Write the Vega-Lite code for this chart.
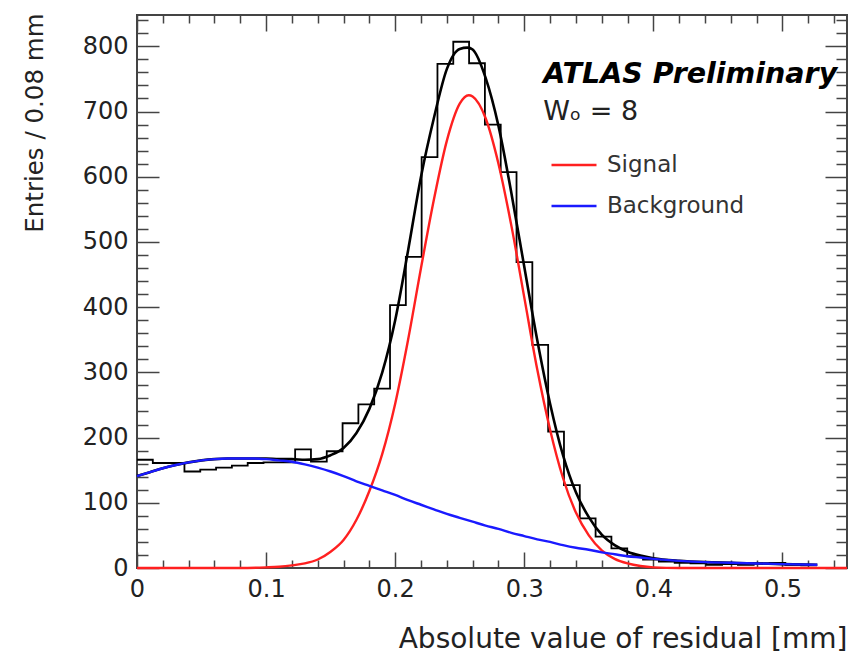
{
  "$schema": "https://vega.github.io/schema/vega-lite/v6.json",
  "width": 710,
  "height": 553,
  "autosize": {"type": "none"},
  "padding": {"left": 137, "top": 15, "right": 5, "bottom": 96},
  "background": "white",
  "config": {
    "view": {"stroke": "#444", "strokeWidth": 2},
    "font": "DejaVu Sans",
    "axis": {"domain": false, "grid": false, "tickColor": "#444", "tickWidth": 1.5, "zindex": 1, "labelFlush": false, "labelOverlap": false, "labelBound": false}
  },
  "datasets": {
    "hist": [
      {"x": 0, "n": 166}, {"x": 0.01225, "n": 161}, {"x": 0.0245, "n": 161}, {"x": 0.03675, "n": 148},
      {"x": 0.049, "n": 151}, {"x": 0.06125, "n": 154}, {"x": 0.0735, "n": 157}, {"x": 0.08575, "n": 161},
      {"x": 0.098, "n": 162}, {"x": 0.11025, "n": 162}, {"x": 0.1225, "n": 182}, {"x": 0.13475, "n": 163},
      {"x": 0.147, "n": 179}, {"x": 0.15925, "n": 222}, {"x": 0.1715, "n": 251}, {"x": 0.18375, "n": 275},
      {"x": 0.196, "n": 403}, {"x": 0.20825, "n": 477}, {"x": 0.2205, "n": 630}, {"x": 0.23275, "n": 773},
      {"x": 0.245, "n": 807}, {"x": 0.25725, "n": 774}, {"x": 0.2695, "n": 680}, {"x": 0.28175, "n": 607},
      {"x": 0.294, "n": 469}, {"x": 0.30625, "n": 342}, {"x": 0.3185, "n": 209}, {"x": 0.33075, "n": 127},
      {"x": 0.343, "n": 76}, {"x": 0.35525, "n": 48}, {"x": 0.3675, "n": 30}, {"x": 0.37975, "n": 18},
      {"x": 0.392, "n": 13}, {"x": 0.40425, "n": 10}, {"x": 0.4165, "n": 8}, {"x": 0.42875, "n": 7},
      {"x": 0.441, "n": 5}, {"x": 0.45325, "n": 6}, {"x": 0.4655, "n": 5}, {"x": 0.47775, "n": 7},
      {"x": 0.49, "n": 8}, {"x": 0.50225, "n": 5}, {"x": 0.5145, "n": 4}, {"x": 0.52675, "n": 4}
    ],
    "total": [
      {"x": 0, "y": 141}, {"x": 0.01, "y": 147}, {"x": 0.02, "y": 153}, {"x": 0.03, "y": 158}, {"x": 0.04, "y": 162},
      {"x": 0.05, "y": 165}, {"x": 0.06, "y": 167}, {"x": 0.07, "y": 168}, {"x": 0.08, "y": 168}, {"x": 0.09, "y": 168},
      {"x": 0.1, "y": 168}, {"x": 0.11, "y": 167}, {"x": 0.12, "y": 167}, {"x": 0.13, "y": 166}, {"x": 0.14, "y": 167},
      {"x": 0.15, "y": 173}, {"x": 0.16, "y": 184}, {"x": 0.17, "y": 207}, {"x": 0.18, "y": 244}, {"x": 0.19, "y": 300},
      {"x": 0.2, "y": 380}, {"x": 0.21, "y": 487}, {"x": 0.22, "y": 600}, {"x": 0.23, "y": 690}, {"x": 0.24, "y": 765},
      {"x": 0.25, "y": 796}, {"x": 0.256, "y": 798}, {"x": 0.26, "y": 795}, {"x": 0.27, "y": 752}, {"x": 0.28, "y": 678},
      {"x": 0.29, "y": 575}, {"x": 0.3, "y": 462}, {"x": 0.31, "y": 350}, {"x": 0.32, "y": 252}, {"x": 0.33, "y": 173},
      {"x": 0.34, "y": 116}, {"x": 0.35, "y": 78}, {"x": 0.36, "y": 51}, {"x": 0.37, "y": 35}, {"x": 0.38, "y": 25},
      {"x": 0.39, "y": 19}, {"x": 0.4, "y": 15}, {"x": 0.42, "y": 11}, {"x": 0.44, "y": 9}, {"x": 0.46, "y": 8},
      {"x": 0.48, "y": 7}, {"x": 0.5, "y": 6}, {"x": 0.527, "y": 5}
    ],
    "signal": [
      {"x": 0, "y": 0}, {"x": 0.05, "y": 0}, {"x": 0.08, "y": 0}, {"x": 0.1, "y": 1}, {"x": 0.11, "y": 2},
      {"x": 0.12, "y": 4}, {"x": 0.13, "y": 7}, {"x": 0.14, "y": 13}, {"x": 0.15, "y": 25}, {"x": 0.16, "y": 43},
      {"x": 0.17, "y": 74}, {"x": 0.18, "y": 118}, {"x": 0.19, "y": 175}, {"x": 0.2, "y": 252}, {"x": 0.21, "y": 350},
      {"x": 0.22, "y": 460}, {"x": 0.23, "y": 565}, {"x": 0.24, "y": 655}, {"x": 0.25, "y": 712}, {"x": 0.257, "y": 725},
      {"x": 0.26, "y": 723}, {"x": 0.27, "y": 690}, {"x": 0.28, "y": 620}, {"x": 0.29, "y": 525}, {"x": 0.3, "y": 415},
      {"x": 0.31, "y": 305}, {"x": 0.32, "y": 212}, {"x": 0.33, "y": 138}, {"x": 0.34, "y": 85}, {"x": 0.35, "y": 50},
      {"x": 0.36, "y": 27}, {"x": 0.37, "y": 14}, {"x": 0.38, "y": 7}, {"x": 0.39, "y": 3}, {"x": 0.4, "y": 1},
      {"x": 0.42, "y": 0}, {"x": 0.55, "y": 0}
    ],
    "background": [
      {"x": 0, "y": 141}, {"x": 0.01, "y": 147}, {"x": 0.02, "y": 153}, {"x": 0.03, "y": 158}, {"x": 0.04, "y": 162},
      {"x": 0.05, "y": 165}, {"x": 0.06, "y": 167}, {"x": 0.07, "y": 168}, {"x": 0.08, "y": 168}, {"x": 0.09, "y": 168},
      {"x": 0.1, "y": 167}, {"x": 0.11, "y": 165}, {"x": 0.12, "y": 163}, {"x": 0.13, "y": 159}, {"x": 0.14, "y": 154},
      {"x": 0.15, "y": 148}, {"x": 0.16, "y": 141}, {"x": 0.17, "y": 133}, {"x": 0.18, "y": 126}, {"x": 0.19, "y": 119},
      {"x": 0.2, "y": 112}, {"x": 0.21, "y": 104}, {"x": 0.22, "y": 97}, {"x": 0.23, "y": 90}, {"x": 0.24, "y": 83},
      {"x": 0.25, "y": 77}, {"x": 0.26, "y": 71}, {"x": 0.27, "y": 65}, {"x": 0.28, "y": 60}, {"x": 0.29, "y": 54},
      {"x": 0.3, "y": 49}, {"x": 0.31, "y": 44}, {"x": 0.32, "y": 40}, {"x": 0.33, "y": 35}, {"x": 0.34, "y": 31},
      {"x": 0.35, "y": 28}, {"x": 0.36, "y": 24}, {"x": 0.37, "y": 21}, {"x": 0.38, "y": 18}, {"x": 0.39, "y": 16},
      {"x": 0.4, "y": 14}, {"x": 0.42, "y": 11}, {"x": 0.44, "y": 9}, {"x": 0.46, "y": 8}, {"x": 0.48, "y": 7},
      {"x": 0.5, "y": 6}, {"x": 0.527, "y": 5}
    ],
    "labels": [
      {"x": 0.3147, "y": 743, "t": "ATLAS Preliminary", "kind": "atlas"},
      {"x": 0.3147, "y": 687, "t": "Wₒ = 8", "kind": "w"}
    ]
  },
  "layer": [
    {
      "data": {"name": "hist"},
      "mark": {"type": "line", "interpolate": "step-after", "color": "black", "strokeWidth": 1.8},
      "encoding": {
        "x": {
          "field": "x", "type": "quantitative",
          "scale": {"domain": [0, 0.55], "nice": false, "zero": false},
          "axis": {
            "orient": "bottom", "offset": -16, "tickSize": 16,
            "values": [0, 0.1, 0.2, 0.3, 0.4, 0.5],
            "labelExpr": "format(datum.value,'.1~f')",
            "labelFont": "DejaVu Sans", "labelFontSize": 24, "labelColor": "#222", "labelPadding": 9,
            "title": "Absolute value of residual [mm]", "titleFont": "DejaVu Sans", "titleFontSize": 28,
            "titleFontWeight": "normal", "titleColor": "#222", "titleAlign": "right", "titleAnchor": "end",
            "titleX": 710, "titleY": 95, "titleBaseline": "alphabetic"
          }
        },
        "y": {
          "field": "n", "type": "quantitative",
          "scale": {"domain": [0, 848], "nice": false, "zero": false},
          "axis": {
            "orient": "left", "offset": -22, "tickSize": 22,
            "values": [0, 100, 200, 300, 400, 500, 600, 700, 800],
            "labelFont": "DejaVu Sans", "labelFontSize": 24, "labelColor": "#222", "labelPadding": 9,
            "title": "Entries / 0.08 mm", "titleFont": "DejaVu Sans", "titleFontSize": 24.5,
            "titleFontWeight": "normal", "titleColor": "#222", "titleAlign": "right", "titleAnchor": "end",
            "titleX": -117, "titleY": -2, "titleBaseline": "alphabetic", "titleAngle": 270
          }
        }
      }
    },
    {
      "data": {"name": "total"},
      "mark": {"type": "line", "interpolate": "monotone", "color": "black", "strokeWidth": 2.6},
      "encoding": {
        "x": {
          "field": "x", "type": "quantitative",
          "axis": {
            "orient": "bottom", "offset": -8, "tickSize": 8, "labels": false, "title": null,
            "values": [0.02, 0.04, 0.06, 0.08, 0.12, 0.14, 0.16, 0.18, 0.22, 0.24, 0.26, 0.28, 0.32, 0.34, 0.36, 0.38, 0.42, 0.44, 0.46, 0.48, 0.52, 0.54]
          }
        },
        "y": {
          "field": "y", "type": "quantitative",
          "axis": {
            "orient": "left", "offset": -11, "tickSize": 11, "labels": false, "title": null,
            "values": [20, 40, 60, 80, 120, 140, 160, 180, 220, 240, 260, 280, 320, 340, 360, 380, 420, 440, 460, 480, 520, 540, 560, 580, 620, 640, 660, 680, 720, 740, 760, 780, 820, 840]
          }
        }
      }
    },
    {
      "data": {"name": "signal"},
      "mark": {"type": "line", "interpolate": "monotone", "strokeWidth": 2.4},
      "encoding": {
        "x": {
          "field": "x", "type": "quantitative",
          "axis": {
            "orient": "top", "offset": -16, "tickSize": 16, "labels": false, "title": null,
            "values": [0, 0.1, 0.2, 0.3, 0.4, 0.5]
          }
        },
        "y": {
          "field": "y", "type": "quantitative",
          "axis": {
            "orient": "right", "offset": -22, "tickSize": 22, "labels": false, "title": null,
            "values": [0, 100, 200, 300, 400, 500, 600, 700, 800]
          }
        },
        "color": {
          "datum": "Signal",
          "scale": {"domain": ["Signal", "Background"], "range": ["#ff2020", "#1a1aff"]},
          "legend": {
            "orient": "none", "legendX": 413, "legendY": 126, "title": null, "padding": 0,
            "symbolType": "stroke", "symbolSize": 2025, "symbolStrokeWidth": 2.5,
            "labelFont": "DejaVu Sans", "labelFontSize": 23, "labelColor": "#333", "labelOffset": 9,
            "rowPadding": 5
          }
        }
      }
    },
    {
      "data": {"name": "background"},
      "mark": {"type": "line", "interpolate": "monotone", "strokeWidth": 2.4},
      "encoding": {
        "x": {
          "field": "x", "type": "quantitative",
          "axis": {
            "orient": "top", "offset": -8, "tickSize": 8, "labels": false, "title": null,
            "values": [0.02, 0.04, 0.06, 0.08, 0.12, 0.14, 0.16, 0.18, 0.22, 0.24, 0.26, 0.28, 0.32, 0.34, 0.36, 0.38, 0.42, 0.44, 0.46, 0.48, 0.52, 0.54]
          }
        },
        "y": {
          "field": "y", "type": "quantitative",
          "axis": {
            "orient": "right", "offset": -11, "tickSize": 11, "labels": false, "title": null,
            "values": [20, 40, 60, 80, 120, 140, 160, 180, 220, 240, 260, 280, 320, 340, 360, 380, 420, 440, 460, 480, 520, 540, 560, 580, 620, 640, 660, 680, 720, 740, 760, 780, 820, 840]
          }
        },
        "color": {"datum": "Background"}
      }
    },
    {
      "data": {"name": "labels"},
      "transform": [{"filter": "datum.kind === 'atlas'"}],
      "mark": {"type": "text", "align": "left", "baseline": "alphabetic", "font": "DejaVu Sans", "fontSize": 28.5, "fontStyle": "italic", "fontWeight": "bold", "color": "black"},
      "encoding": {
        "x": {"field": "x", "type": "quantitative", "axis": null},
        "y": {"field": "y", "type": "quantitative", "axis": null},
        "text": {"field": "t"}
      }
    },
    {
      "data": {"name": "labels"},
      "transform": [{"filter": "datum.kind === 'w'"}],
      "mark": {"type": "text", "align": "left", "baseline": "alphabetic", "font": "DejaVu Sans", "fontSize": 27, "color": "#222"},
      "encoding": {
        "x": {"field": "x", "type": "quantitative", "axis": null},
        "y": {"field": "y", "type": "quantitative", "axis": null},
        "text": {"field": "t"}
      }
    }
  ],
  "resolve": {"axis": {"x": "independent", "y": "independent"}}
}
